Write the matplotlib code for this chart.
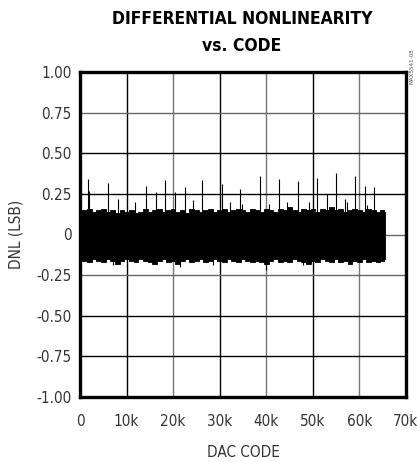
import matplotlib
matplotlib.use("Agg")
import matplotlib.pyplot as plt

plt.rcParams['font.family'] = ['DejaVu Sans']
plt.rcParams['font.stretch'] = 'condensed'

# envelope of the dense DNL band, read every 1k codes
env_codes = list(range(0, 65001, 1000)) + [65535]
upper_env = [0.13, 0.15, 0.16, 0.14, 0.15, 0.16, 0.14, 0.15, 0.13, 0.15, 0.14,
             0.15, 0.13, 0.14, 0.16, 0.14, 0.15, 0.16, 0.14, 0.15, 0.16,
             0.14, 0.15, 0.13, 0.16, 0.15, 0.14, 0.15, 0.16, 0.14, 0.15,
             0.16, 0.14, 0.15, 0.16, 0.15, 0.14, 0.16, 0.15, 0.14, 0.16,
             0.15, 0.14, 0.16, 0.15, 0.17, 0.15, 0.14, 0.16, 0.15, 0.16,
             0.14, 0.16, 0.15, 0.17, 0.15, 0.16, 0.14, 0.15, 0.16, 0.15,
             0.14, 0.16, 0.15, 0.14, 0.15, 0.14]
lower_env = [-0.15, -0.16, -0.17, -0.15, -0.16, -0.17, -0.15, -0.16, -0.18, -0.16, -0.15,
             -0.16, -0.17, -0.15, -0.16, -0.17, -0.18, -0.16, -0.15, -0.17, -0.16,
             -0.18, -0.16, -0.15, -0.17, -0.16, -0.15, -0.17, -0.16, -0.15, -0.16,
             -0.17, -0.15, -0.16, -0.17, -0.15, -0.16, -0.17, -0.16, -0.17, -0.18,
             -0.16, -0.15, -0.17, -0.16, -0.17, -0.15, -0.16, -0.17, -0.18, -0.16,
             -0.17, -0.15, -0.16, -0.17, -0.15, -0.17, -0.16, -0.18, -0.16, -0.17,
             -0.15, -0.17, -0.16, -0.17, -0.16, -0.15]

# tall positive spikes
spike_codes = [1720, 1930, 6010, 8160, 14240, 16250, 18320, 20330, 22540, 26270, 30420,
               34400, 38550, 42800, 46730, 50810, 52960, 54900, 56900, 59040, 61190, 63120]
spike_tops = [0.34, 0.27, 0.32, 0.22, 0.30, 0.26, 0.335, 0.26, 0.29, 0.335, 0.31,
              0.28, 0.36, 0.34, 0.33, 0.35, 0.25, 0.38, 0.22, 0.36, 0.30, 0.29]

# smaller spikes above the band
minor_codes = [11800, 24300, 32200, 34800, 40500, 44400, 49100, 57300, 61600]
minor_tops = [0.20, 0.21, 0.20, 0.19, 0.19, 0.20, 0.20, 0.20, 0.18]

# spikes below the band
neg_codes = [7000, 21400, 28600, 39900, 47800]
neg_bottoms = [-0.19, -0.20, -0.19, -0.22, -0.19]

y_ticks = [1.0, 0.75, 0.5, 0.25, 0, -0.25, -0.5, -0.75, -1.0]
y_labels = ['1.00', '0.75', '0.50', '0.25', '0', '-0.25', '-0.50', '-0.75', '-1.00']
x_ticks = [0, 10000, 20000, 30000, 40000, 50000, 60000, 70000]
x_labels = ['0', '10k', '20k', '30k', '40k', '50k', '60k', '70k']

fig = plt.figure(figsize=(4.17, 4.62), dpi=100)
ax = fig.add_axes([80 / 417, 1 - 397 / 462, 326 / 417, 325 / 462])

# grid
for i, xv in enumerate(x_ticks[1:-1]):
    ax.axvline(xv, color='black' if i % 2 == 0 else '#777777', lw=1.0, zorder=1)
for yv in [0.75, 0.5, 0.25, 0, -0.25, -0.5, -0.75]:
    c = '#666666' if yv in (0.75, 0, -0.25) else 'black'
    ax.axhline(yv, color=c, lw=1.0, zorder=1)

ax.fill_between(env_codes, lower_env, upper_env, color='black', lw=0.6,
                step='mid', zorder=2)
ax.vlines(spike_codes, 0, spike_tops, color='black', lw=0.8, zorder=3)
ax.vlines(minor_codes, 0, minor_tops, color='black', lw=0.8, zorder=3)
ax.vlines(neg_codes, neg_bottoms, 0, color='black', lw=0.8, zorder=3)

ax.set_xlim(0, 70000)
ax.set_ylim(-1.0, 1.0)
ax.set_xticks(x_ticks)
ax.set_xticklabels(x_labels)
ax.set_yticks(y_ticks)
ax.set_yticklabels(y_labels)
ax.tick_params(length=0, labelsize=11, colors='#333333')
ax.tick_params(axis='x', pad=12)
ax.tick_params(axis='y', pad=6)
for s in ax.spines.values():
    s.set_linewidth(2.4)
    s.set_color('black')

ax.set_xlabel('DAC CODE', fontsize=11, labelpad=12, color='#333333')
ax.set_ylabel('DNL (LSB)', fontsize=11, labelpad=9, color='#333333')

fig.text(0.58, 0.958, 'DIFFERENTIAL NONLINEARITY', ha='center', va='center',
         fontsize=12.5, fontweight='bold')
fig.text(0.58, 0.900, 'vs. CODE', ha='center', va='center',
         fontsize=12.5, fontweight='bold')
fig.text(0.988, 0.895, 'MAX5541-08', rotation=90, ha='center', va='top',
         fontsize=4.5, color='#555555')

fig.savefig('out.png', dpi=100)
